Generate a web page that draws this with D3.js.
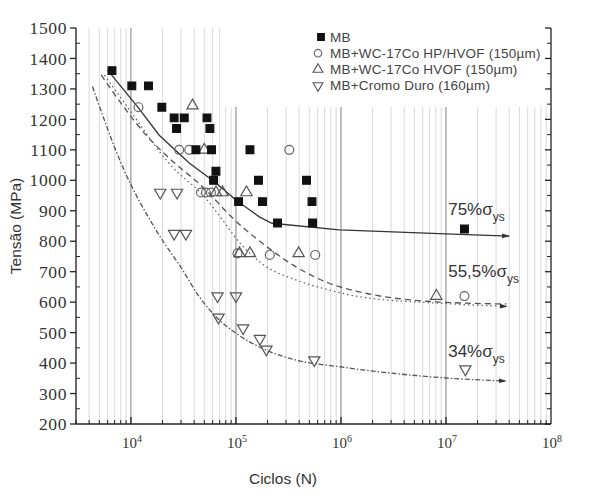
<!DOCTYPE html>
<html><head><meta charset="utf-8">
<script src="https://cdn.jsdelivr.net/npm/d3@7"></script>
<style>body{margin:0;background:#fff}svg{display:block}</style>
</head><body>
<script>
// ---- data ----
const yTicks = [200,300,400,500,600,700,800,900,1000,1100,1200,1300,1400,1500];
const xTickExp = [4,5,6,7,8];
const legendLabels = ["MB","MB+WC-17Co HP/HVOF (150µm)","MB+WC-17Co HVOF (150µm)","MB+Cromo Duro (160µm)"];

const mbN = [6600,10200,14700,19700,25800,32200,27200,53000,56500,41600,58600,64500,61300,106000,136000,164000,179000,249000,470000,530000,537000,1.5e7];
const mbS = [1360,1310,1310,1240,1205,1205,1170,1205,1170,1100,1100,1030,1000,930,1100,1000,930,860,1000,930,860,840];

const hpN = [11800,28800,35900,322000,46400,51800,57800,103500,210000,569000,1.5e7];
const hpS = [1240,1100,1100,1100,960,960,960,760,755,755,620];

const hvN = [38600,49900,64600,74500,126000,108000,136000,395000,8.1e6];
const hvS = [1245,1100,960,960,960,760,760,760,620];

const crN = [19000,27500,25800,33400,66800,100000,68200,117000,169000,195000,557000,1.53e7];
const crS = [960,960,825,825,620,620,550,515,480,445,410,380];

const c75N = [6000,11800,18600,35900,64600,100000,167000,220000,964000,1e7,4e7];
const c75S = [1362,1238,1148,1057,991,935,880,859,837,824,817];

const c55aN = [5200,8300,14400,21500,51800,93000,179000,372000,774000,1.49e6,8.1e6,3.76e7];
const c55aS = [1346,1247,1143,1083,968,876,793,716,662,634,601,594];

const c55bN = [5600,10000,23000,51800,74500,100000,179000,372000,774000,1.49e6,8.1e6,3.8e7];
const c55bS = [1345,1225,1056,940,870,810,725,673,640,618,597,586];

const c34N = [4300,8320,17300,31000,44700,64600,100000,193000,373000,964000,1e7,3.73e7];
const c34S = [1308,1045,837,706,618,552,498,443,410,388,351,341];

const curveLabels = [
  {main:"75%σ", sub:"ys", n:1.05e7, s:885},
  {main:"55,5%σ", sub:"ys", n:1.05e7, s:683},
  {main:"34%σ", sub:"ys", n:1.05e7, s:420}
];

// ---- layout ----
const W = 614, H = 494;
const L = 76, R = 551, T = 28, B = 424;
const x = d3.scaleLog().domain([3000, 1e8]).range([L, R]);
const y = d3.scaleLinear().domain([200, 1500]).range([B, T]);

const svg = d3.select("body").append("svg").attr("width", W).attr("height", H);
const defs = svg.append("defs");
defs.append("marker").attr("id","arr").attr("viewBox","0 0 10 10").attr("refX",9).attr("refY",5)
  .attr("markerWidth",6).attr("markerHeight",6).attr("orient","auto")
  .append("path").attr("d","M0,2 L10,5 L0,8 Z").attr("fill","#333");

// vertical grid
const gridVals = [];
for (let e = 3; e < 8; e++) for (let m = 1; m <= 9; m++) { const v = m * Math.pow(10, e); if (v >= 3000 && v <= 1e8) gridVals.push(v); }
const grid = svg.append("g");
gridVals.forEach(v => {
  const isMajor = Math.abs(Math.log10(v) - Math.round(Math.log10(v))) < 1e-9;
  grid.append("line").attr("x1", x(v)).attr("x2", x(v)).attr("y1", T).attr("y2", B)
    .attr("stroke", isMajor ? "#8a8a8a" : "#d9d9d9").attr("stroke-width", isMajor ? 1.1 : 1);
});
// legend background
svg.append("rect").attr("x", 223).attr("y", T - 2).attr("width", R - 223 - 1).attr("height", 107 - T + 2).attr("fill", "#fff");

// axes lines
svg.append("line").attr("x1", L).attr("x2", L).attr("y1", T).attr("y2", B).attr("stroke", "#222").attr("stroke-width", 1.3);
svg.append("line").attr("x1", R).attr("x2", R).attr("y1", T).attr("y2", B).attr("stroke", "#222").attr("stroke-width", 1.3);
svg.append("line").attr("x1", L).attr("x2", R).attr("y1", B).attr("y2", B).attr("stroke", "#222").attr("stroke-width", 1.3);

// y axis ticks
const yAxis = svg.append("g");
yTicks.forEach(v => {
  yAxis.append("line").attr("x1", L - 6).attr("x2", L).attr("y1", y(v)).attr("y2", y(v)).attr("stroke", "#222").attr("stroke-width", 1.3);
  yAxis.append("line").attr("x1", R - 6).attr("x2", R).attr("y1", y(v)).attr("y2", y(v)).attr("stroke", "#222").attr("stroke-width", 1.3);
  yAxis.append("text").attr("x", L - 9).attr("y", y(v)).attr("dy", "0.35em").attr("text-anchor", "end")
    .attr("font-family", "Liberation Serif, Times New Roman, serif").attr("font-size", 17.5).attr("letter-spacing", 0.6)
    .attr("fill", "#333").text(v);
});
yTicks.slice(0, -1).forEach(v => {
  const m = v + 50;
  yAxis.append("line").attr("x1", L).attr("x2", L + 4).attr("y1", y(m)).attr("y2", y(m)).attr("stroke", "#222");
  yAxis.append("line").attr("x1", R - 4).attr("x2", R).attr("y1", y(m)).attr("y2", y(m)).attr("stroke", "#222");
});
// x axis ticks
const xAxis = svg.append("g");
gridVals.forEach(v => {
  const isMajor = Math.abs(Math.log10(v) - Math.round(Math.log10(v))) < 1e-9;
  xAxis.append("line").attr("x1", x(v)).attr("x2", x(v)).attr("y1", B).attr("y2", B - (isMajor ? 7 : 4)).attr("stroke", "#222").attr("stroke-width", isMajor ? 1.3 : 1);
});
xTickExp.forEach(e => {
  const t = xAxis.append("text").attr("x", x(Math.pow(10, e)) + 1).attr("y", B + 24).attr("text-anchor", "middle")
    .attr("font-family", "Liberation Serif, Times New Roman, serif").attr("font-size", 15).attr("fill", "#333");
  t.append("tspan").text("10");
  t.append("tspan").attr("dy", -6).attr("font-size", 10).text(e);
});

// axis titles
svg.append("text").attr("x", 283).attr("y", 484).attr("text-anchor", "middle")
  .attr("font-family", "Liberation Sans, Arial, sans-serif").attr("font-size", 15.5).attr("fill", "#333").text("Ciclos (N)");
svg.append("text").attr("transform", "translate(21,226) rotate(-90)").attr("text-anchor", "middle")
  .attr("font-family", "Liberation Sans, Arial, sans-serif").attr("font-size", 15.5).attr("fill", "#333").text("Tensão (MPa)");

// curves
const lineGen = (curve) => d3.line().x(d => x(d[0])).y(d => y(d[1])).curve(curve);
const zip = (a, b) => a.map((v, i) => [v, b[i]]);
svg.append("path").attr("d", lineGen(d3.curveLinear)(zip(c75N, c75S))).attr("fill", "none")
  .attr("stroke", "#333").attr("stroke-width", 1.3).attr("marker-end", "url(#arr)");
svg.append("path").attr("d", lineGen(d3.curveMonotoneX)(zip(c55aN, c55aS))).attr("fill", "none")
  .attr("stroke", "#555").attr("stroke-width", 1.3).attr("stroke-dasharray", "6,4");
svg.append("path").attr("d", lineGen(d3.curveMonotoneX)(zip(c55bN, c55bS))).attr("fill", "none")
  .attr("stroke", "#666").attr("stroke-width", 1.3).attr("stroke-dasharray", "1.5,3").attr("marker-end", "url(#arr)");
svg.append("path").attr("d", lineGen(d3.curveMonotoneX)(zip(c34N, c34S))).attr("fill", "none")
  .attr("stroke", "#555").attr("stroke-width", 1.3).attr("stroke-dasharray", "5,2,1.5,2").attr("marker-end", "url(#arr)");

// markers
const sym = (type, size) => d3.symbol().type(type).size(size)();
function plotPts(N, S, type, size, fill, stroke, rot) {
  svg.append("g").selectAll("path").data(zip(N, S)).join("path")
    .attr("d", sym(type, size))
    .attr("transform", d => `translate(${x(d[0])},${y(d[1])})` + (rot ? " rotate(180)" : ""))
    .attr("fill", fill).attr("stroke", stroke).attr("stroke-width", 1.2);
}
plotPts(hpN, hpS, d3.symbolCircle, 62, "none", "#666");
plotPts(hvN, hvS, d3.symbolTriangle, 55, "none", "#555");
plotPts(crN, crS, d3.symbolTriangle, 55, "none", "#555", true);
plotPts(mbN, mbS, d3.symbolSquare, 60, "#111", "#111");

// curve labels
curveLabels.forEach(c => {
  const t = svg.append("text").attr("x", x(c.n)).attr("y", y(c.s))
    .attr("font-family", "Liberation Sans, Arial, sans-serif").attr("font-size", 17).attr("fill", "#333");
  t.append("tspan").text(c.main);
  t.append("tspan").attr("dy", 6).attr("font-size", 12).text(c.sub);
});

// legend
const lg = svg.append("g");
const legTypes = [[d3.symbolSquare, "#111", "#111", false, 45], [d3.symbolCircle, "none", "#666", false, 45], [d3.symbolTriangle, "none", "#555", false, 42], [d3.symbolTriangle, "none", "#555", true, 42]];
legendLabels.forEach((lab, i) => {
  const yy = 37 + i * 16.2;
  const tp = legTypes[i];
  lg.append("path").attr("d", sym(tp[0], tp[4])).attr("transform", `translate(${i === 0 ? 321 : 318},${yy})` + (tp[3] ? " rotate(180)" : ""))
    .attr("fill", tp[1]).attr("stroke", tp[2]).attr("stroke-width", 1.1);
  lg.append("text").attr("x", 330).attr("y", yy).attr("dy", "0.36em")
    .attr("font-family", "Liberation Sans, Arial, sans-serif").attr("font-size", 13.5).attr("letter-spacing", 0.2)
    .attr("fill", "#444").text(lab);
});
</script>
</body></html>
